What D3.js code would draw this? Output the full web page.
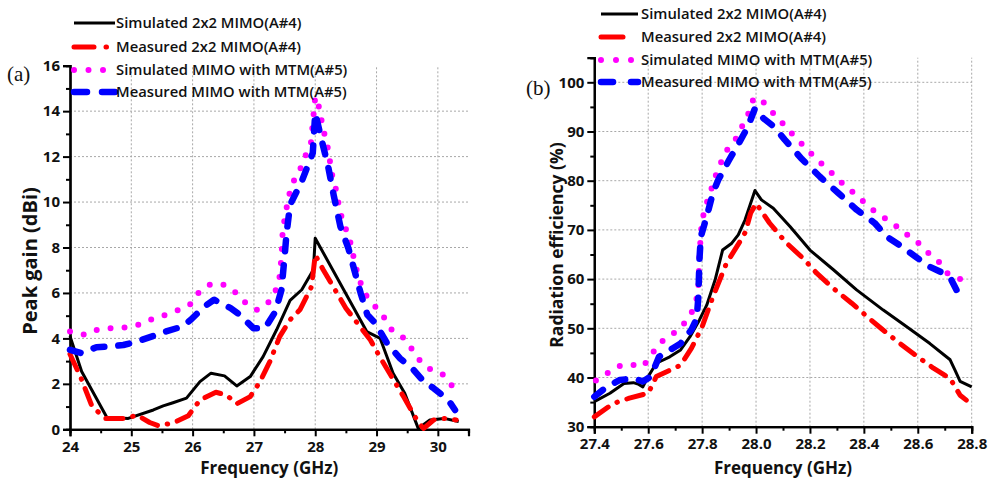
<!DOCTYPE html>
<html><head><meta charset="utf-8">
<script src="https://cdn.jsdelivr.net/npm/d3@7"></script>
<style>body{margin:0;background:#fff}svg{display:block}</style>
</head><body>
<svg id="c" width="988" height="483"></svg>
<script>
// ---------- data: panel (a) Peak gain (dBi) vs Frequency (GHz) ----------
const gainSim2x2 = [[24,4.1],[24.19,2.54],[24.6,0.53],[24.95,0.48],[25.36,0.85],[25.52,1.03],[25.68,1.17],[25.9,1.37],[26.12,2.1],[26.3,2.47],[26.52,2.35],[26.72,1.91],[26.94,2.32],[27.15,3.2],[27.37,4.38],[27.59,5.67],[27.78,6.14],[27.97,7.02],[28,8.41],[28.84,4.3],[29.06,4.0],[29.27,2.47],[29.46,1.59],[29.68,0.04],[29.87,0.41],[30.1,0.48],[30.34,0.34]];
const gainMeas2x2 = [[24,3.3],[24.17,2.32],[24.36,1.0],[24.58,0.48],[24.88,0.48],[25.1,0.62],[25.3,0.3],[25.45,0.15],[25.7,0.3],[25.93,0.6],[26.12,1.29],[26.38,1.63],[26.55,1.51],[26.72,1.12],[26.94,1.44],[27.1,2.1],[27.26,2.98],[27.42,4.08],[27.59,4.82],[27.75,5.26],[27.94,6.28],[28,7.68],[28.13,7.02],[28.5,5.33],[28.73,4.52],[28.9,3.93],[29.05,3.2],[29.23,2.39],[29.44,1.44],[29.69,0.26],[29.77,0.04],[29.93,0.41],[30.12,0.48],[30.3,0.41]];
const gainSimMTM = [[24,4.3],[24.24,4.16],[24.46,4.4],[24.68,4.45],[24.9,4.48],[25.12,4.6],[25.34,4.85],[25.56,5.04],[25.78,5.26],[25.97,5.52],[26.1,6.02],[26.3,6.4],[26.51,6.36],[26.7,6.02],[26.86,5.58],[27.05,5.26],[27.22,5.52],[27.35,6.07],[27.42,6.73],[27.45,7.6],[27.47,8.78],[27.56,10.15],[27.62,10.79],[27.74,11.35],[27.83,11.97],[27.93,12.6],[28,14.63],[28.04,14.45],[28.09,13.77],[28.14,13.1],[28.2,12.45],[28.28,11.13],[28.35,10.44],[28.39,9.78],[28.45,9.12],[28.55,8.5],[28.66,7.16],[28.73,6.5],[28.83,5.89],[28.98,5.4],[29.12,4.93],[29.25,4.37],[29.45,4.01],[29.58,3.52],[29.72,2.98],[29.91,2.57],[30.1,2.39],[30.25,1.85]];
const gainMeasMTM = [[24,3.5],[24.19,3.35],[24.43,3.61],[24.65,3.64],[24.87,3.71],[25.09,3.86],[25.36,4.11],[25.56,4.3],[25.83,4.52],[25.97,4.82],[26.19,5.4],[26.35,5.7],[26.62,5.33],[26.77,5.04],[26.99,4.45],[27.18,4.45],[27.35,5.18],[27.45,6.14],[27.51,7.9],[27.53,8.56],[27.59,9.88],[27.78,10.91],[27.96,12.16],[28,13.92],[28.09,12.89],[28.21,11.57],[28.3,10.32],[28.41,8.93],[28.54,7.97],[28.74,6.0],[28.85,5.04],[28.98,4.67],[29.17,3.79],[29.38,3.13],[29.58,2.69],[29.77,2.1],[29.93,1.81],[30.17,1.29],[30.28,0.85]];

// ---------- data: panel (b) Radiation efficiency (%) vs Frequency (GHz) ----------
const effSim2x2 = [[27.4,35.1],[27.458,36.8],[27.51,38.8],[27.545,38.95],[27.565,38.6],[27.58,38.1],[27.6,40.2],[27.63,42.9],[27.68,44.2],[27.72,45.6],[27.755,48.3],[27.79,51.7],[27.817,54.7],[27.848,59.8],[27.876,65.9],[27.91,67.3],[27.934,69.0],[27.959,72.0],[27.996,78.0],[28.02,76.1],[28.064,74.4],[28.126,70.7],[28.2,65.9],[28.287,61.9],[28.373,57.8],[28.472,53.7],[28.559,50.3],[28.645,46.9],[28.72,43.6],[28.738,41.5],[28.757,39.2],[28.8,38.1]];
const effMeas2x2 = [[27.4,32.0],[27.47,34.7],[27.53,35.8],[27.6,36.8],[27.63,40.2],[27.72,42.5],[27.76,45.9],[27.8,50.3],[27.84,56.4],[27.89,63.2],[27.94,67.6],[27.96,69.5],[27.98,73.4],[28.0,75.4],[28.05,71.4],[28.11,67.5],[28.175,64.2],[28.225,61.2],[28.287,58.1],[28.355,55.1],[28.42,52.0],[28.47,49.7],[28.534,46.9],[28.59,44.6],[28.658,41.9],[28.72,39.8],[28.757,36.4],[28.78,35.4]];
const effSimMTM = [[27.406,39.4],[27.446,40.8],[27.49,42.3],[27.53,42.7],[27.58,42.2],[27.61,44.4],[27.64,46.9],[27.68,48.4],[27.72,50.1],[27.755,52.5],[27.777,55.2],[27.786,58.5],[27.79,64.9],[27.798,71.2],[27.81,74.4],[27.83,77.5],[27.845,80.3],[27.866,83.2],[27.887,85.9],[27.92,88.0],[27.947,90.9],[27.971,93.6],[27.99,96.6],[28.015,96.8],[28.05,94.5],[28.086,92.5],[28.12,90.3],[28.157,88.2],[28.194,86.1],[28.23,84.1],[28.27,82.2],[28.305,80.2],[28.346,78.3],[28.386,76.4],[28.42,74.6],[28.466,72.8],[28.507,71.4],[28.546,69.5],[28.59,68.0],[28.633,65.6],[28.68,63.4],[28.713,61.0],[28.78,59.5]];
const effMeasMTM = [[27.4,36.1],[27.446,38.1],[27.495,39.5],[27.545,39.8],[27.58,39.2],[27.61,40.2],[27.64,44.2],[27.69,45.9],[27.72,46.9],[27.76,49.7],[27.78,52.0],[27.786,56.4],[27.79,63.9],[27.795,68.6],[27.817,72.7],[27.84,77.5],[27.86,80.2],[27.9,84.2],[27.94,88.0],[27.97,91.0],[27.996,94.7],[28.027,92.7],[28.064,91.1],[28.107,88.3],[28.17,84.4],[28.237,80.8],[28.305,77.5],[28.373,74.1],[28.44,71.4],[28.485,68.6],[28.53,67.0],[28.59,64.6],[28.645,62.5],[28.695,61.2],[28.725,59.8],[28.75,57.1]];

const legendLabels = ["Simulated 2x2 MIMO(A#4)","Measured 2x2 MIMO(A#4)","Simulated MIMO with MTM(A#5)","Measured MIMO with MTM(A#5)"];
const ticksA_x = [24,25,26,27,28,29,30];
const ticksA_y = [0,2,4,6,8,10,12,14,16];
const ticksB_x = [27.4,27.6,27.8,28.0,28.2,28.4,28.6,28.8];
const ticksB_y = [30,40,50,60,70,80,90,100];

// ---------- styles ----------
const styles = [
  {stroke:"#000", width:3, dash:null, cap:"butt"},
  {stroke:"#ff0000", width:5, dash:"17,10,0.5,10", cap:"round"},
  {stroke:"#ff00ff", width:6, dash:"0,14", cap:"round"},
  {stroke:"#0000ff", width:6.5, dash:"11,14", cap:"round"}
];
const FONT = "'Open Sans', sans-serif";
const svg = d3.select("#c");

function panel(cfg){
  const g = svg.append("g");
  const x = d3.scaleLinear().domain(cfg.xd).range(cfg.xr);
  const y = d3.scaleLinear().domain(cfg.yd).range(cfg.yr);
  // grid
  g.append("g").selectAll("line").data(cfg.gx).join("line")
    .attr("x1",d=>x(d)).attr("x2",d=>x(d)).attr("y1",cfg.yr[0]).attr("y2",cfg.yr[1])
    .attr("stroke","#a8a8a8").attr("stroke-width",1).attr("stroke-dasharray","2,2");
  g.append("g").selectAll("line").data(cfg.gy).join("line")
    .attr("y1",d=>y(d)).attr("y2",d=>y(d)).attr("x1",cfg.xr[0]).attr("x2",cfg.xr[1])
    .attr("stroke","#a8a8a8").attr("stroke-width",1).attr("stroke-dasharray","2,2");
  // minor ticks
  const xMinor = g.append("g").attr("transform",`translate(0,${cfg.yr[0]})`)
    .call(d3.axisBottom(x).tickValues(cfg.xminor).tickSize(4).tickFormat(""));
  const yMinor = g.append("g").attr("transform",`translate(${cfg.xr[0]},0)`)
    .call(d3.axisLeft(y).tickValues(cfg.yminor).tickSize(4).tickFormat(""));
  // major axes
  const xa = g.append("g").attr("transform",`translate(0,${cfg.yr[0]})`)
    .call(d3.axisBottom(x).tickValues(cfg.xt).tickSize(7).tickPadding(5).tickFormat(cfg.xf));
  const ya = g.append("g").attr("transform",`translate(${cfg.xr[0]},0)`)
    .call(d3.axisLeft(y).tickValues(cfg.yt).tickSize(7).tickPadding(3).tickFormat(d3.format("d")));
  [xMinor,yMinor,xa,ya].forEach(a=>{
    a.select(".domain").attr("stroke","#000").attr("stroke-width",2.2);
    a.selectAll(".tick line").attr("stroke","#000").attr("stroke-width",2);
    a.selectAll("text").attr("font-family",FONT).attr("font-weight",700)
      .attr("font-size",15).attr("fill","#111");
  });
  // lines
  const line = d3.line().x(d=>x(d[0])).y(d=>y(d[1]));
  cfg.series.forEach((s,i)=>{
    const st = styles[i];
    g.append("path").datum(s).attr("d",line).attr("fill","none")
      .attr("stroke",st.stroke).attr("stroke-width",st.width)
      .attr("stroke-dasharray",st.dash).attr("stroke-linecap",st.cap)
      .attr("stroke-linejoin","round");
  });
  // axis titles
  g.append("text").attr("x",(cfg.xr[0]+cfg.xr[1])/2).attr("y",cfg.xtY)
    .attr("text-anchor","middle").attr("font-family",FONT).attr("font-weight",700)
    .attr("font-size",17).attr("fill","#111").text("Frequency (GHz)");
  g.append("text").attr("transform",`translate(${cfg.ytX},${cfg.ytC}) rotate(-90)`)
    .attr("text-anchor","middle").attr("font-family",FONT).attr("font-weight",700)
    .attr("font-size",cfg.ytS).attr("fill","#111").text(cfg.ytitle);
  // panel label
  g.append("text").attr("x",cfg.lab[0]).attr("y",cfg.lab[1]).attr("font-family","'Liberation Serif', serif")
    .attr("font-size",21).attr("fill","#111").text(cfg.label);
  // legend
  const lg = g.append("g");
  legendLabels.forEach((t,i)=>{
    const st = styles[i], yy = cfg.leg.y[i];
    lg.append("line").attr("x1",cfg.leg.x0).attr("x2",cfg.leg.x1).attr("y1",yy).attr("y2",yy)
      .attr("stroke",st.stroke).attr("stroke-width",st.width)
      .attr("stroke-dasharray",cfg.leg.dash[i]).attr("stroke-linecap",st.cap);
    lg.append("text").attr("x",cfg.leg.tx).attr("y",yy+5).attr("font-family",FONT)
      .attr("font-weight",600).attr("font-size",14.8).attr("fill","#111").text(t);
  });
}

panel({
  xd:[24,30.5], xr:[70,468.5], yd:[0,16], yr:[429.3,65.7],
  xt:ticksA_x, yt:ticksA_y, xf:d3.format("d"),
  gx:[25,26,27,28,29,30], gy:[2,4,6,8,10,12,14],
  xminor:[24.5,25.5,26.5,27.5,28.5,29.5,30.5], yminor:[1,3,5,7,9,11,13,15],
  series:[gainSim2x2,gainMeas2x2,gainSimMTM,gainMeasMTM],
  xtY:474, ytX:37, ytC:261, ytS:20, ytitle:"Peak gain (dBi)", label:"(a)", lab:[7,81],
  leg:{x0:74,x1:115,tx:116,y:[23,47,70,92],dash:[null,"20,12,0.5,20","0,14.5","13,15"]}
});
panel({
  xd:[27.4,28.8], xr:[594.3,971.7], yd:[30,105], yr:[426.7,57.7],
  xt:ticksB_x, yt:ticksB_y, xf:d3.format(".1f"),
  gx:[27.6,27.8,28.0,28.2,28.4,28.6,28.8], gy:[40,50,60,70,80,90,100],
  xminor:[27.5,27.7,27.9,28.1,28.3,28.5,28.7], yminor:[35,45,55,65,75,85,95,105],
  series:[effSim2x2,effMeas2x2,effSimMTM,effMeasMTM],
  xtY:474, ytX:563, ytC:245, ytS:17.5, ytitle:"Radiation efficiency (%)", label:"(b)", lab:[526,95],
  leg:{x0:601,x1:638,tx:641,y:[14,37,60,82],dash:[null,"22,40","0,15","12,18"]}
});
</script>
</body></html>
